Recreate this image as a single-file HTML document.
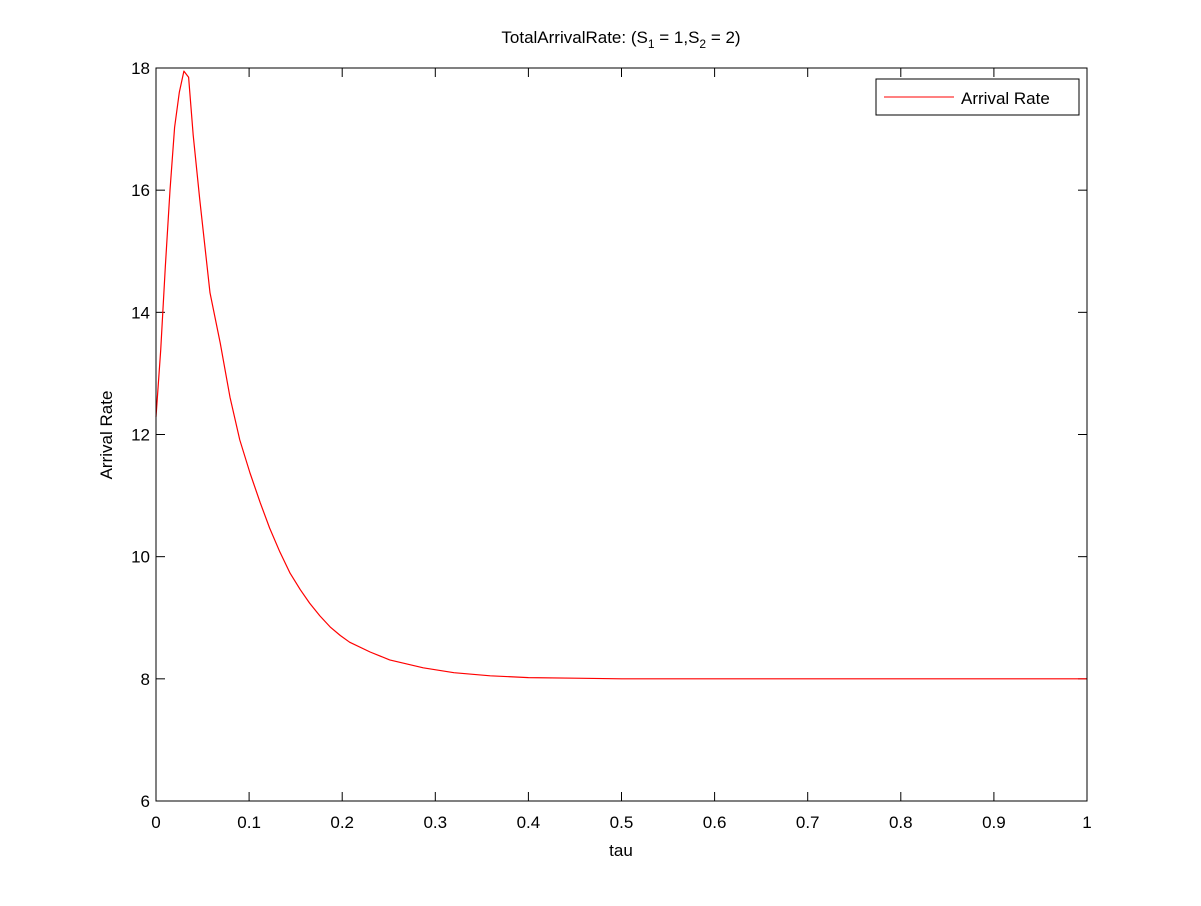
<!DOCTYPE html>
<html><head><meta charset="utf-8"><style>
body{margin:0;background:#fff}
svg text{font-family:"Liberation Sans",Arial,sans-serif;fill:#000}
</style></head><body>
<svg id="chart" width="1201" height="901" xmlns="http://www.w3.org/2000/svg">
<rect x="0" y="0" width="1201" height="901" fill="#fff"/>
<text x="621" y="43" font-size="17" text-anchor="middle">TotalArrivalRate: (S<tspan font-size="12" dy="5">1</tspan><tspan dy="-5"> = 1,S</tspan><tspan font-size="12" dy="5">2</tspan><tspan dy="-5"> = 2)</tspan></text>
<g id="ticks"></g>
<path id="curve" fill="none" stroke="#ff0000" stroke-width="1.2" stroke-linejoin="round"/>
<rect x="156" y="68" width="931" height="733" fill="none" stroke="#000" stroke-width="1"/>
<text x="621" y="856" font-size="17" text-anchor="middle">tau</text>
<text x="0" y="0" font-size="17" text-anchor="middle" transform="translate(112,435) rotate(-90)">Arrival Rate</text>
<g>
<rect x="876" y="79" width="203" height="36" fill="#fff" stroke="#000" stroke-width="1"/>
<line x1="884" y1="97" x2="954" y2="97" stroke="#ff0000" stroke-width="1"/>
<text x="961" y="104" font-size="17">Arrival Rate</text>
</g>
</svg>
<script>
const tauValues=[0,0.005,0.01,0.015,0.02,0.025,0.03,0.035,0.04,0.047,0.058,0.069,0.0795,0.09,0.101,0.112,0.122,0.133,0.144,0.155,0.165,0.176,0.187,0.198,0.208,0.23,0.251,0.287,0.32,0.359,0.4,0.45,0.5,0.6,0.8,1.0];
const rateValues=[12.29,13.38,14.74,16.0,17.03,17.6,17.95,17.85,16.9,15.84,14.32,13.5,12.61,11.91,11.37,10.88,10.47,10.08,9.73,9.46,9.24,9.03,8.85,8.71,8.60,8.44,8.31,8.18,8.1,8.05,8.02,8.01,8.0,8.0,8.0,8.0];
const xTicks=[0,0.1,0.2,0.3,0.4,0.5,0.6,0.7,0.8,0.9,1];
const xTickLabels=["0","0.1","0.2","0.3","0.4","0.5","0.6","0.7","0.8","0.9","1"];
const yTicks=[6,8,10,12,14,16,18];
const yTickLabels=["6","8","10","12","14","16","18"];
const X0=156,X1=1087,Y0=801,Y1=68;
const sx=v=>X0+(v-0)/(1-0)*(X1-X0);
const sy=v=>Y0-(v-6)/(18-6)*(Y0-Y1);
const NS="http://www.w3.org/2000/svg";
const g=document.getElementById('ticks');
function mk(t,a){const e=document.createElementNS(NS,t);for(const k in a)e.setAttribute(k,a[k]);g.appendChild(e);return e;}
xTicks.forEach((v,i)=>{const x=sx(v);
 let l=mk('line',{x1:x,y1:Y0,x2:x,y2:Y0-9,stroke:'#000'});
 
 
 l=mk('line',{x1:x,y1:Y1,x2:x,y2:Y1+9,stroke:'#000'});
 
 
 const t=mk('text',{x:x,y:828,'font-size':17,'text-anchor':'middle'});t.textContent=xTickLabels[i];
 
 
});
yTicks.forEach((v,i)=>{const y=sy(v);
 let l=mk('line',{x1:X0,y1:y,x2:X0+9,y2:y,stroke:'#000'});
 
 
 l=mk('line',{x1:X1,y1:y,x2:X1-9,y2:y,stroke:'#000'});
 
 
 const t=mk('text',{x:X0-6,y:y+6,'font-size':17,'text-anchor':'end'});t.textContent=yTickLabels[i];
 
 
});
document.getElementById('curve').setAttribute('d',tauValues.map((v,i)=>(i?'L':'M')+sx(v).toFixed(1)+' '+sy(rateValues[i]).toFixed(1)).join(' '));
</script>
</body></html>
